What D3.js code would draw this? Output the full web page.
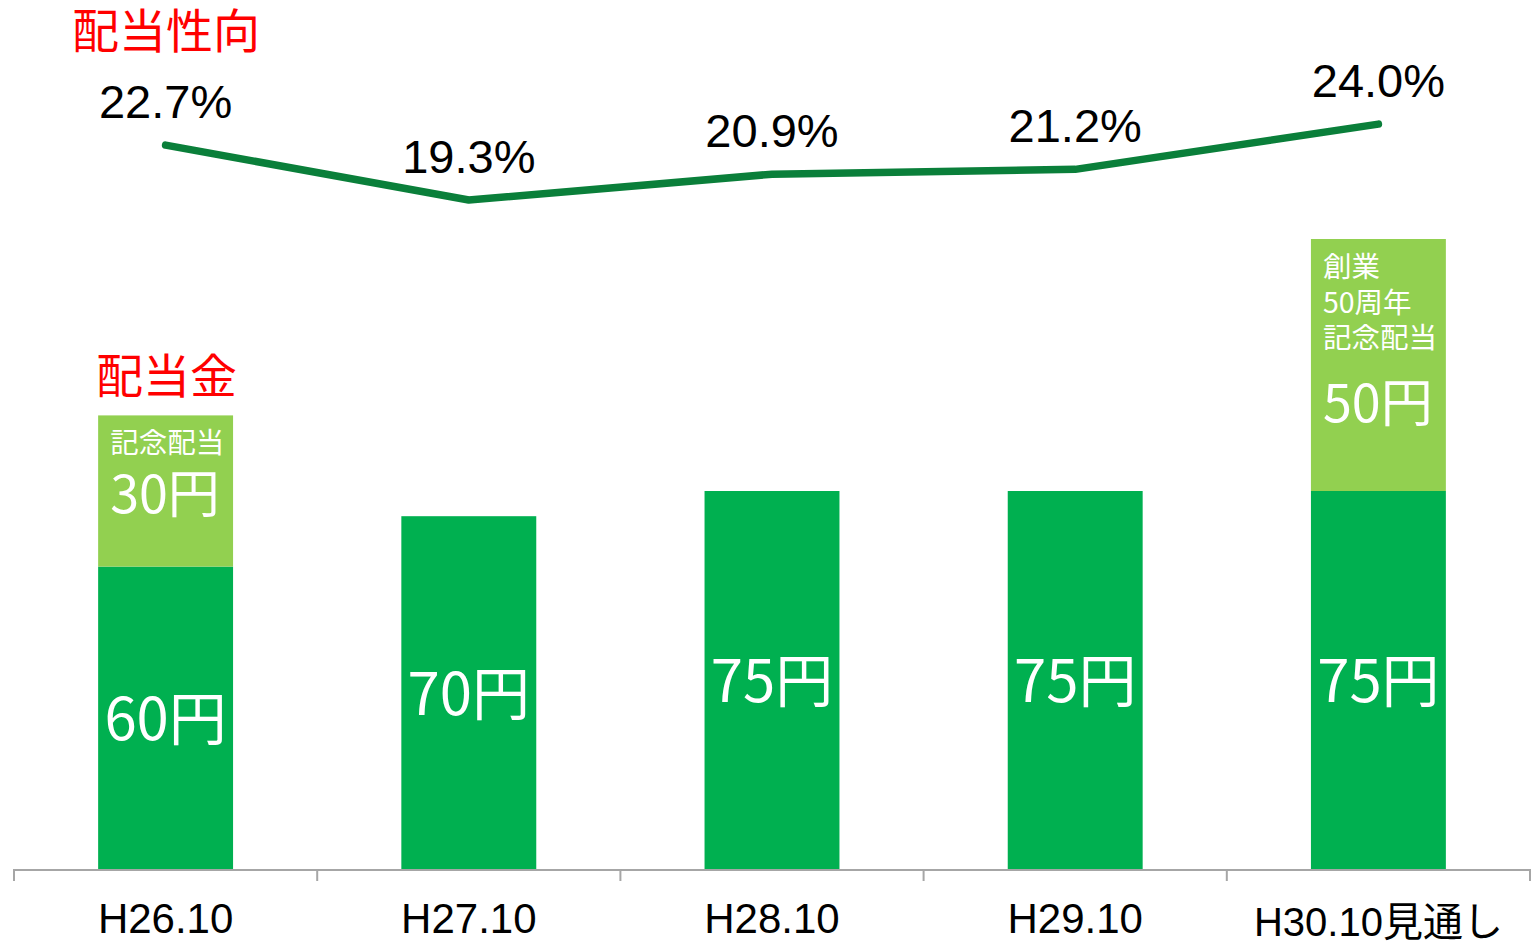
<!DOCTYPE html>
<html><head><meta charset="utf-8">
<script src="https://cdn.jsdelivr.net/npm/d3@7"></script>
<style>
html,body{margin:0;padding:0;background:#fff;}
svg{display:block;}
</style></head>
<body>
<script>
const categories = ["H26.10","H27.10","H28.10","H29.10","H30.10見通し"];
const ordinaryDividend = [60,70,75,75,75];
const commemorativeDividend = [30,0,0,0,50];
const payoutRatio = [22.7,19.3,20.9,21.2,24.0];
const payoutLabels = ["22.7%","19.3%","20.9%","21.2%","24.0%"];
const commemorativeNotes = [["記念配当"],[],[],[],["創業","50周年","記念配当"]];

const W=1532,H=942;
const svg=d3.select("body").append("svg").attr("width",W).attr("height",H);
const latin='"Liberation Sans", Arial, "Noto Sans CJK JP", sans-serif';
const cjk='"Noto Sans CJK JP", "Liberation Sans", sans-serif';

const x=d3.scaleBand().domain(categories).range([14,1530]).paddingInner(0.555).paddingOuter(0.2775);
const y=d3.scaleLinear().domain([0,150]).range([869,869-150*5.04]);
const yr=d3.scaleLinear().domain([18,25]).range([221,108]);

const green="#00b050", light="#92d050", lineCol="#0a7f3a";

// bars
const g=svg.append("g");
categories.forEach((c,i)=>{
  const base=ordinaryDividend[i], extra=commemorativeDividend[i];
  g.append("rect").attr("x",x(c)).attr("width",x.bandwidth())
    .attr("y",y(base)).attr("height",y(0)-y(base)).attr("fill",green);
  g.append("text").attr("x",x(c)+x.bandwidth()/2).attr("y",(y(base)+y(0))/2-3)
    .attr("text-anchor","middle").attr("dominant-baseline","central")
    .attr("font-family",cjk).attr("font-size",58).attr("fill","#fff").text(base+"円");
  if(extra>0){
    g.append("rect").attr("x",x(c)).attr("width",x.bandwidth())
      .attr("y",y(base+extra)).attr("height",y(base)-y(base+extra)).attr("fill",light);
    const notes=commemorativeNotes[i];
    const top=y(base+extra);
    const lx=x(c)+12;
    notes.forEach((t,j)=>{
      g.append("text").attr("x",lx).attr("y",top+38+j*35.5)
        .attr("font-family",cjk).attr("font-size",28.5).attr("fill","#fff").text(t);
    });
    const gap = notes.length>1 ? 74 : 60;
    g.append("text").attr("x",lx).attr("y",top+38+(notes.length-1)*35.5+gap)
      .attr("font-family",cjk).attr("font-size",52).attr("fill","#fff").text(extra+"円");
  }
});

// axis
const ax=svg.append("g").attr("stroke","#a6a6a6").attr("stroke-width",2);
ax.append("line").attr("x1",x.range()[0]).attr("x2",x.range()[1]).attr("y1",y(0)+1).attr("y2",y(0)+1);
d3.range(categories.length+1).forEach(i=>{
  const xx=x.range()[0]+i*x.step();
  ax.append("line").attr("x1",xx).attr("x2",xx).attr("y1",y(0)).attr("y2",y(0)+12);
});
categories.forEach((c,i)=>{
  svg.append("text").attr("x",x(c)+x.bandwidth()/2).attr("y",i===4?936:933)
    .attr("text-anchor","middle").attr("font-family",latin).attr("font-size",i===4?40:42)
    .attr("fill","#000").text(c);
});

// line
const pts=categories.map((c,i)=>[x(c)+x.bandwidth()/2, yr(payoutRatio[i])]);
svg.append("path").attr("d",d3.line()(pts)).attr("fill","none")
  .attr("stroke",lineCol).attr("stroke-width",7.5).attr("stroke-linecap","round").attr("stroke-linejoin","round");
pts.forEach((p,i)=>{
  svg.append("text").attr("x",p[0]).attr("y",p[1]-27).attr("text-anchor","middle")
    .attr("font-family",latin).attr("font-size",47).attr("fill","#000").text(payoutLabels[i]);
});

// titles
svg.append("text").attr("x",72).attr("y",48).attr("font-family",cjk).attr("font-size",47)
  .attr("fill","#ff0000").text("配当性向");
svg.append("text").attr("x",96).attr("y",393).attr("font-family",cjk).attr("font-size",47)
  .attr("fill","#ff0000").text("配当金");
</script>
</body></html>
